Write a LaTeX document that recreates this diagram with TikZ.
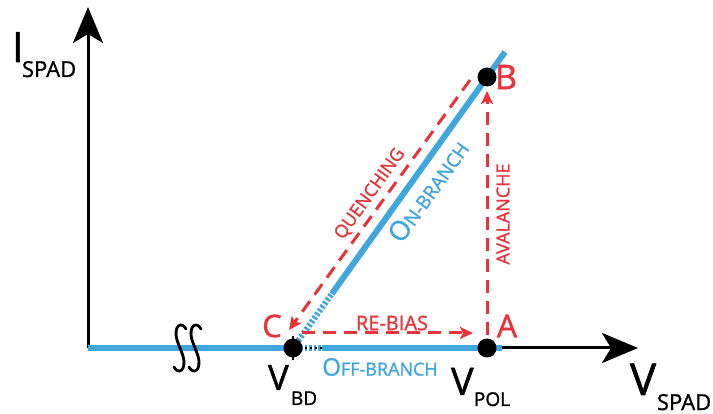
\documentclass[tikz,border=0pt]{standalone}
\usepackage{fontspec}
\setmainfont{Open Sans}[FakeBold=1.2]
\usetikzlibrary{arrows.meta,calc}
\definecolor{sblue}{RGB}{64,166,222}
\definecolor{sred}{RGB}{230,52,58}
\newcommand{\fs}[1]{\fontsize{#1}{#1}\selectfont}
\begin{document}
\begin{tikzpicture}[x=1pt,y=-1pt,
  axis/.style={line width=3pt,-{Stealth[length=36pt,width=30pt,inset=9pt]}},
  branch/.style={sblue,line width=6pt},
  trans/.style={sred,line width=3pt,dash pattern=on 13pt off 8pt,-{Stealth[length=13pt,width=12pt,inset=3pt]}},
  dotc/.style={circle,fill=black,minimum size=19pt,inner sep=0pt},
  lab/.style={inner sep=0pt,outer sep=0pt},
  redlab/.style={lab,text=sred},
  bluelab/.style={lab,text=sblue},
  brk/.style={line width=2.8pt,line cap=round}]
\useasboundingbox (0,0) rectangle (713,414);
% coordinates
\coordinate (O) at (88,348);
\coordinate (ytip) at (88,7);
\coordinate (xtip) at (638,348);
\coordinate (Cp) at (293,348);
\coordinate (Ap) at (487,348);
\coordinate (Bp) at (487,77);
\coordinate (top) at (505,52);
\coordinate (dotend) at ($(Cp)!0.2!(Bp)$);
\coordinate (hd1) at (300,348);
\coordinate (hd2) at (322,348);
\coordinate (bend) at (502,348);
\coordinate (q1) at (470,80);
\coordinate (q2) at (289,330);
\coordinate (a1) at (487,335);
\coordinate (a2) at (487,91);
\coordinate (r1) at (302,333);
\coordinate (r2) at (473,333);
% axes
\draw[axis] (O) -- (ytip);
\draw[axis] (O) -- (xtip);
% branches
\draw[branch] (O) -- (Cp);
\draw[branch] (hd2) -- (bend);
\draw[white,line width=7pt] (hd1) -- (hd2);
\draw[sblue,line width=6pt,dash pattern=on 2.5pt off 2pt] (hd1) -- (hd2);
\draw[black,line width=2.5pt,dash pattern=on 2pt off 3pt] (hd1) -- (hd2);
\draw[branch] (dotend) -- (top);
\draw[sblue,line width=6pt,dash pattern=on 2.5pt off 2pt] (Cp) -- (dotend);
% break marks
\foreach \c in {180,195}{
  \draw[brk] (\c+6,329) .. controls (\c+2,321) and (\c-7,325) .. (\c-3,340)
             .. controls (\c-1,346) and (\c+1,350) .. (\c+3,356)
             .. controls (\c+7,371) and (\c-2,375) .. (\c-6,367);
}
% transitions
\draw[trans] (q1) -- (q2);
\draw[trans] (a1) -- (a2);
\draw[trans] (r1) -- (r2);
% points
\draw[line width=1.5pt] (293,336) -- (293,360);
\node[dotc] (C) at (Cp) {};
\node[dotc] (A) at (Ap) {};
\node[dotc] (B) at (Bp) {};
% point labels
\node[redlab] (Cl) at (272,326) {\fs{31}C};
\node[redlab] (Al) at (507,326) {\fs{32}A};
\node[redlab] (Bl) at (506,77) {\fs{34}B};
% axis labels
\node[lab,anchor=base west] (I) at (12,62) {\fs{42}I};
\node[lab,anchor=base west] (Isub) at (22,77) {\fs{22}SPAD};
\node[lab,anchor=base west] (V) at (630,395) {\fs{44}V};
\node[lab,anchor=base west] (Vsub) at (657,410) {\fs{22}SPAD};
\node[lab,anchor=base west] (Vbd) at (268,390) {\fs{35}V};
\node[lab,anchor=base west] (Vbdsub) at (291,405) {\fs{19}BD};
\node[lab,anchor=base west] (Vpol) at (451,395) {\fs{38}V};
\node[lab,anchor=base west] (Vpolsub) at (474,406) {\fs{19}POL};
% transition labels
\node[redlab] (qlab) at (370,194) [rotate=54.4] {\fs{18}QUENCHING};
\node[redlab] (alab) at (503,214) [rotate=90] {\fs{18}AVALANCHE};
\node[redlab] (rlab) at (392,323) {\fs{20}RE-BIAS};
\node[bluelab] (onlab) at (428,191) [rotate=54.4] {\fs{27}O\fs{19}N-BRANCH};
\node[bluelab] (offlab) at (380,367) {\fs{24}O\fs{18}FF-BRANCH};
\end{tikzpicture}
\end{document}
